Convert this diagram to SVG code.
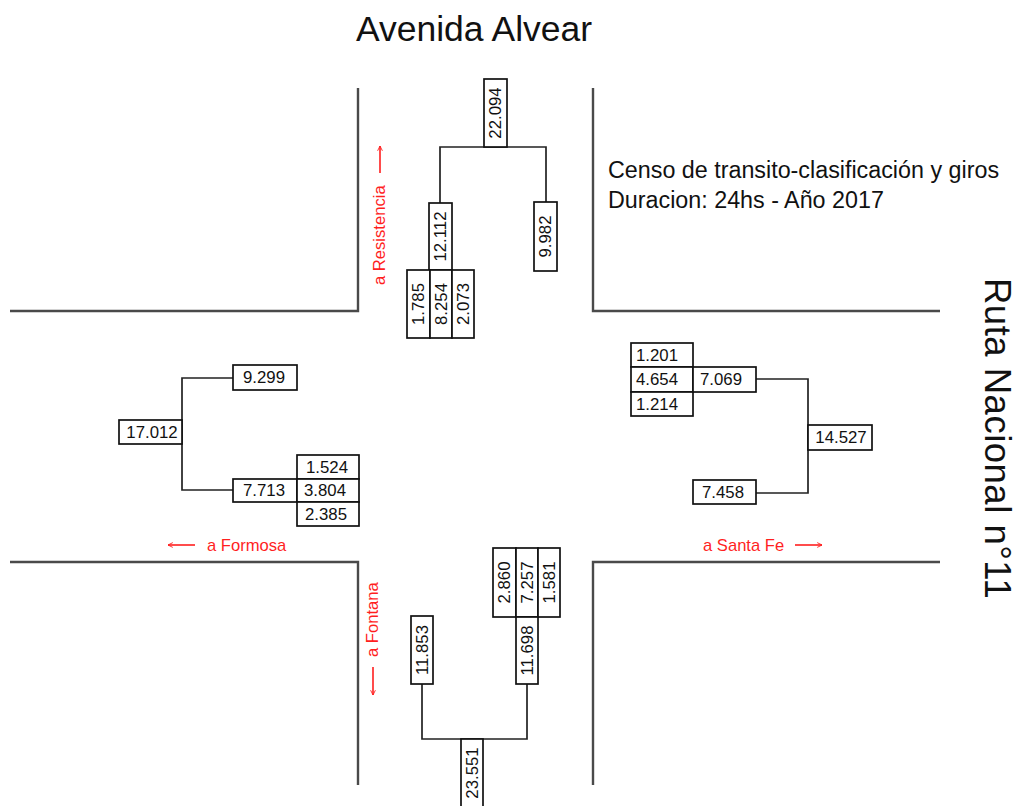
<svg xmlns="http://www.w3.org/2000/svg" width="1019" height="806" viewBox="0 0 1019 806">
<style>
.road{fill:none;stroke:#4a4a4a;stroke-width:2.4}
.box{fill:#fff;stroke:#111;stroke-width:1.7}
.con{fill:none;stroke:#222;stroke-width:1.7}
.num{font-family:"Liberation Sans",Arial,sans-serif;font-size:16.8px;fill:#111;text-anchor:middle}
.lbl{font-family:"Liberation Sans",Arial,sans-serif;font-size:16.6px;fill:#ff1f1f}
.arr{fill:none;stroke:#ff1f1f;stroke-width:1.6}
.big{font-family:"Liberation Sans",Arial,sans-serif;fill:#111}
</style>
<defs>
<marker id="ah" viewBox="0 0 10 10" refX="9" refY="5" markerWidth="6" markerHeight="6" orient="auto" markerUnits="userSpaceOnUse">
<path d="M1,1 L9,5 L1,9" fill="none" stroke="#ff1f1f" stroke-width="1.5"/>
</marker>
</defs>
<rect width="1019" height="806" fill="#fff"/>
<g id="roads">
<path class="road" d="M358,88 V311 H10"/>
<path class="road" d="M593,88 V311 H940"/>
<path class="road" d="M10,562 H358 V785"/>
<path class="road" d="M940,562 H593 V785"/>
</g>
<g id="titles">
<text class="big" x="474" y="41" font-size="35.5" text-anchor="middle">Avenida Alvear</text>
<text class="big" x="608" y="178" font-size="23.3">Censo de transito-clasificación y giros</text>
<text class="big" x="608" y="207.5" font-size="23.3">Duracion: 24hs - Año 2017</text>
<text class="big" font-size="36.5" letter-spacing="0.5" transform="translate(985,278) rotate(90)">Ruta Nacional n°11</text>
</g>
<g id="labels">
<text class="lbl" transform="translate(385,285) rotate(-90)">a Resistencia</text>
<line class="arr" x1="380" y1="173" x2="380" y2="146" marker-end="url(#ah)"/>
<text class="lbl" transform="translate(378,657) rotate(-90)">a Fontana</text>
<line class="arr" x1="373" y1="667" x2="373" y2="695" marker-end="url(#ah)"/>
<line class="arr" x1="195" y1="545" x2="168" y2="545" marker-end="url(#ah)"/>
<text class="lbl" x="207" y="551">a Formosa</text>
<text class="lbl" x="703" y="551">a Santa Fe</text>
<line class="arr" x1="795" y1="545" x2="822" y2="545" marker-end="url(#ah)"/>
</g>
<g id="connectors">
<path class="con" d="M440,203 V147 H546 V202"/>
<path class="con" d="M233,378 H182 V490 H233"/>
<path class="con" d="M756,379 H808 V493 H756"/>
<path class="con" d="M422,684 V739 H527 V684"/>
</g>
<g id="north">
<g id="n-total"><rect class="box" x="484" y="79" width="23" height="68"/><text class="num" transform="translate(495.5,113) rotate(-90)" dy="0.35em">22.094</text></g>
<g id="n-left"><rect class="box" x="429" y="203" width="23" height="67"/><text class="num" transform="translate(440.5,236.5) rotate(-90)" dy="0.35em">12.112</text></g>
<g id="n-right"><rect class="box" x="534" y="202" width="23" height="69"/><text class="num" transform="translate(545.5,236.5) rotate(-90)" dy="0.35em">9.982</text></g>
<g id="n-a"><rect class="box" x="407" y="270" width="23" height="68"/><text class="num" transform="translate(418.5,304) rotate(-90)" dy="0.35em">1.785</text></g>
<g id="n-b"><rect class="box" x="430" y="270" width="22" height="68"/><text class="num" transform="translate(441,304) rotate(-90)" dy="0.35em">8.254</text></g>
<g id="n-c"><rect class="box" x="452" y="270" width="22" height="68"/><text class="num" transform="translate(463,304) rotate(-90)" dy="0.35em">2.073</text></g>
</g>
<g id="west">
<g id="w-top"><rect class="box" x="233" y="365" width="64" height="25"/><text class="num" x="264" y="377.5" dy="0.35em">9.299</text></g>
<g id="w-total"><rect class="box" x="119" y="420" width="63" height="24"/><text class="num" x="152" y="432" dy="0.35em">17.012</text></g>
<g id="w-mid"><rect class="box" x="233" y="479" width="64" height="23"/><text class="num" x="264" y="490.5" dy="0.35em">7.713</text></g>
<g id="w-a"><rect class="box" x="297" y="455" width="62" height="24"/><text class="num" x="327" y="467" dy="0.35em">1.524</text></g>
<g id="w-b"><rect class="box" x="297" y="479" width="62" height="23"/><text class="num" x="325" y="490.5" dy="0.35em">3.804</text></g>
<g id="w-c"><rect class="box" x="297" y="502" width="62" height="24"/><text class="num" x="326" y="514" dy="0.35em">2.385</text></g>
</g>
<g id="east">
<g id="e-a"><rect class="box" x="631" y="343" width="62" height="24"/><text class="num" x="657" y="355" dy="0.35em">1.201</text></g>
<g id="e-b"><rect class="box" x="631" y="367" width="62" height="25"/><text class="num" x="657" y="379" dy="0.35em">4.654</text></g>
<g id="e-c"><rect class="box" x="631" y="392" width="62" height="24"/><text class="num" x="657" y="404" dy="0.35em">1.214</text></g>
<g id="e-mid"><rect class="box" x="693" y="367" width="63" height="25"/><text class="num" x="721" y="379" dy="0.35em">7.069</text></g>
<g id="e-total"><rect class="box" x="808" y="425" width="64" height="25"/><text class="num" x="841" y="437.5" dy="0.35em">14.527</text></g>
<g id="e-bot"><rect class="box" x="693" y="480" width="63" height="24"/><text class="num" x="723" y="492" dy="0.35em">7.458</text></g>
</g>
<g id="south">
<g id="s-a"><rect class="box" x="493" y="548" width="23" height="69"/><text class="num" transform="translate(504.5,582.5) rotate(-90)" dy="0.35em">2.860</text></g>
<g id="s-b"><rect class="box" x="516" y="548" width="22" height="69"/><text class="num" transform="translate(527,582.5) rotate(-90)" dy="0.35em">7.257</text></g>
<g id="s-c"><rect class="box" x="538" y="548" width="22" height="69"/><text class="num" transform="translate(549,582.5) rotate(-90)" dy="0.35em">1.581</text></g>
<g id="s-right"><rect class="box" x="516" y="617" width="22" height="67"/><text class="num" transform="translate(527,650.5) rotate(-90)" dy="0.35em">11.698</text></g>
<g id="s-left"><rect class="box" x="411" y="616" width="22" height="68"/><text class="num" transform="translate(422,650) rotate(-90)" dy="0.35em">11.853</text></g>
<g id="s-total"><rect class="box" x="461" y="739" width="22" height="75"/><text class="num" transform="translate(472,773) rotate(-90)" dy="0.35em">23.551</text></g>
</g>
</svg>
